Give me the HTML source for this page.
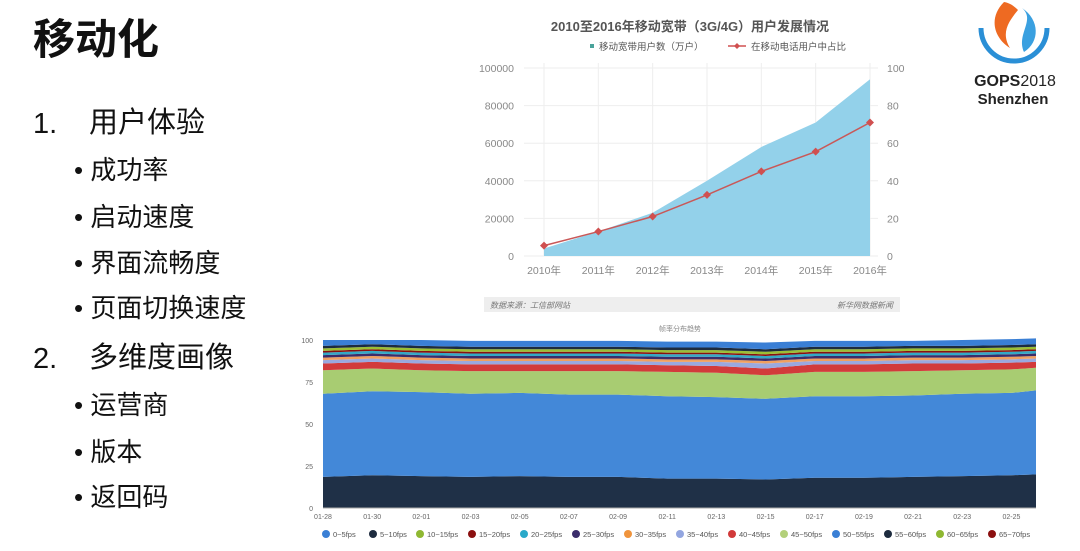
<!DOCTYPE html>
<html><head><meta charset="utf-8">
<style>
html,body{margin:0;padding:0;background:#fff;}
body{width:1080px;height:551px;position:relative;overflow:hidden;font-family:"Liberation Sans","Noto Sans CJK SC",sans-serif;}
.t{position:absolute;white-space:nowrap;color:#111;line-height:1;}
</style></head><body>
<div class="t" style="left:33px;top:19px;font-size:42px;font-weight:bold;">移动化</div>
<div class="t" style="left:33px;top:110px;font-size:29px;">1.</div>
<div class="t" style="left:89px;top:109px;font-size:29px;">用户体验</div>
<div class="t" style="left:74px;top:157px;font-size:26px;">• 成功率</div>
<div class="t" style="left:74px;top:204px;font-size:26px;">• 启动速度</div>
<div class="t" style="left:74px;top:250px;font-size:26px;">• 界面流畅度</div>
<div class="t" style="left:74px;top:295px;font-size:26px;">• 页面切换速度</div>
<div class="t" style="left:33px;top:345px;font-size:29px;">2.</div>
<div class="t" style="left:89px;top:344px;font-size:29px;">多维度画像</div>
<div class="t" style="left:74px;top:392px;font-size:26px;">• 运营商</div>
<div class="t" style="left:74px;top:439px;font-size:26px;">• 版本</div>
<div class="t" style="left:74px;top:484px;font-size:26px;">• 返回码</div>

<svg style="position:absolute;left:960px;top:0" width="110" height="110">
<path d="M21 28 A33 33 0 0 0 87 28" fill="none" stroke="#2a8fd6" stroke-width="5"/>
<path d="M44 2 C28 18 34 38 50 48 C40 32 50 20 58 10 C54 6 50 3 44 2 Z" fill="#ee6a22"/>
<path d="M62 8 C76 20 56 34 64 52 C80 42 80 20 62 8 Z" fill="#3aa0e0"/>
<text x="55" y="86" text-anchor="middle" font-size="16" font-family="Liberation Sans,sans-serif" fill="#222"><tspan font-weight="bold">GOPS</tspan>2018</text>
<text x="53" y="104" text-anchor="middle" font-size="15" font-weight="bold" font-family="Liberation Sans,sans-serif" fill="#222">Shenzhen</text>
</svg>

<svg id="top" style="position:absolute;left:0;top:0" width="1080" height="330"></svg>
<svg id="bot" style="position:absolute;left:0;top:0" width="1080" height="551"></svg>

<script>
const years=["2010年","2011年","2012年","2013年","2014年","2015年","2016年"];
const users=[4000,13000,23000,40000,58000,71000,94000];
const share=[5.5,13,21,32.5,45,55.5,71];
const leftTicks=[0,20000,40000,60000,80000,100000];
const rightTicks=[0,20,40,60,80,100];

const dates=["01-28","01-30","02-01","02-03","02-05","02-07","02-09","02-11","02-13","02-15","02-17","02-19","02-21","02-23","02-25","02-26"];
const dateLabels=["01-28","01-30","02-01","02-03","02-05","02-07","02-09","02-11","02-13","02-15","02-17","02-19","02-21","02-23","02-25"];
const yTicksB=[0,25,50,75,100];
const sDark=[18.5,19.5,19,18.5,19,18.5,18.5,17.5,17.5,17,18,18,18.5,19,19.5,20];
const sBlue=[49.5,50,50,49.5,49.5,49,49,49,48.5,48,48.5,48.5,48.5,49,49,50];
const sLgreen=[14,13.5,13,13.5,13,14,14,14.5,14.5,14,14.5,14.5,14.5,14,14,13.5];
const sRed=[4,4,4,4,4,4,4,4,4,4,4.5,4.5,4.5,4,4,3.5];
const sLpurple=[2,2,2,2,2,2,2,2,2.5,3,2,2,2,2,2,2];
const sOrange=[1.5,1.5,1.5,1.5,1.5,1.5,1.5,1.5,1.5,1.5,1.5,1.5,1.5,1.5,1.5,1.5];
const sDpurple=[1.5,1.5,1.5,1.5,1.5,1.5,1.5,1.5,1.5,1.5,1.5,1.5,1.5,1.5,1.5,1.5];
const sTeal=[1.5,1.5,1.5,1.5,1.5,1.5,1.5,1.5,1.5,1.5,1.5,1.5,1.5,1.5,1.5,1.5];
const sDred=[1,1,1,1,1,1,1,1,1,1,1,1,1,1,1,1];
const sGreen=[1.5,1.5,1.5,1.5,1.5,1.5,1.5,1.5,1.5,1.5,1.5,1.5,1.5,1.5,1.5,1.5];
const sBlack=[1.5,1.5,1.5,1.5,1.5,1.5,1.5,1.5,1.5,1.5,1.5,1.5,1.5,1.5,1.5,1.5];
const sTop=[3.5,2.5,3.5,3.5,3.5,3.5,3.5,3.5,3.5,4,3.5,3.5,3,3.5,3.5,3.5];
const legendNames=["0~5fps","5~10fps","10~15fps","15~20fps","20~25fps","25~30fps","30~35fps","35~40fps","40~45fps","45~50fps","50~55fps","55~60fps","60~65fps","65~70fps"];
const legendColors=["#3a7fd5","#1d2b3e","#8fb832","#8b1010","#29a9c9","#3b2d6b","#f0943c","#93a6e0","#d13a3a","#b3d07a","#3a7fd5","#1d2b3e","#8fb832","#8b1010"];

const NS="http://www.w3.org/2000/svg";
function mk(p,tag,attrs,txt){const e=document.createElementNS(NS,tag);for(const k in attrs)e.setAttribute(k,attrs[k]);if(txt!=null)e.textContent=txt;p.appendChild(e);return e;}

// ---- top chart
const T=document.getElementById('top');
const x0=544,x1=870,yb=256,yt=68;
const xs=i=>x0+(x1-x0)*i/(years.length-1);
const yl=v=>yb-(yb-yt)*v/100000;
const yr=v=>yb-(yb-yt)*v/100;
let e;
e=mk(T,'text',{x:690,y:31,'text-anchor':'middle','font-size':13,'font-weight':'bold',fill:'#555'},'2010至2016年移动宽带（3G/4G）用户发展情况');

e=mk(T,'rect',{x:590,y:44,width:4,height:4,fill:'#4aa39b'});

e=mk(T,'text',{x:599,y:50,'font-size':9.5,fill:'#555'},'移动宽带用户数（万户）');

mk(T,'line',{x1:728,y1:46,x2:746,y2:46,stroke:'#d05050','stroke-width':1.5});
e=mk(T,'path',{d:'M737 43 L740 46 L737 49 L734 46Z',fill:'#d05050'});

e=mk(T,'text',{x:751,y:50,'font-size':9.5,fill:'#555'},'在移动电话用户中占比');

leftTicks.forEach((v,i)=>{
  mk(T,'line',{x1:x0-20,x2:x1+8,y1:yl(v),y2:yl(v),stroke:'#eee','stroke-width':1});
  e=mk(T,'text',{x:514,y:yl(v)+4,'text-anchor':'end','font-size':10.5,fill:'#888'},v);
  
  e=mk(T,'text',{x:887,y:yr(rightTicks[i])+4,'font-size':10.5,fill:'#888'},rightTicks[i]);
  
});
years.forEach((y,i)=>{
  mk(T,'line',{x1:xs(i),x2:xs(i),y1:yt-5,y2:yb,stroke:'#eee','stroke-width':1});
  e=mk(T,'text',{x:xs(i),y:274,'text-anchor':'middle','font-size':10.5,fill:'#888'},y);
  
});
let d='M'+xs(0)+' '+yb;
users.forEach((v,i)=>d+=' L'+xs(i)+' '+yl(v));
d+=' L'+xs(users.length-1)+' '+yb+'Z';
e=mk(T,'path',{d:d,fill:'#93d1ea'});

e=mk(T,'polyline',{points:share.map((v,i)=>xs(i)+','+yr(v)).join(' '),fill:'none',stroke:'#c95858','stroke-width':1.5});

share.forEach((v,i)=>{
  const cx=xs(i),cy=yr(v);
  e=mk(T,'path',{d:`M${cx} ${cy-4} L${cx+4} ${cy} L${cx} ${cy+4} L${cx-4} ${cy}Z`,fill:'#d05050'});
  
});
e=mk(T,'rect',{x:484,y:297,width:416,height:15,fill:'#eeeeee'});

e=mk(T,'text',{x:490,y:308,'font-size':8,'font-style':'italic',fill:'#777'},'数据来源：工信部网站');

e=mk(T,'text',{x:893,y:308,'text-anchor':'end','font-size':8,'font-style':'italic',fill:'#777'},'新华网数据新闻');


// ---- bottom chart
const B=document.getElementById('bot');
const bx0=323,bx1=1036,by0=508,by1=340;
const N=29;
const dayIdx=[0,2,4,6,8,10,12,14,16,18,20,22,24,26,28,29];
const bx=i=>bx0+(bx1-bx0)*dayIdx[i]/N;
const by=v=>by0-(by0-by1)*v/100;
e=mk(B,'text',{x:680,y:331,'text-anchor':'middle','font-size':7,fill:'#888'},'帧率分布趋势');

const layers=[[sDark,'#1f3047'],[sBlue,'#4388d8'],[sLgreen,'#a8cc72'],[sRed,'#d23b3b'],[sLpurple,'#9aa9df'],[sOrange,'#f0a060'],[sDpurple,'#3b2d6b'],[sTeal,'#33a9c6'],[sDred,'#8b1010'],[sGreen,'#9bbf35'],[sBlack,'#1d2b3e'],[sTop,'#3a7fd5']];
let base=dates.map(()=>0);
layers.forEach((L,li)=>{
  const top=base.map((b,i)=>b+L[0][i]);
  let p='M'+dates.map((_,i)=>bx(i)+' '+by(top[i])).join(' L');
  for(let i=dates.length-1;i>=0;i--)p+=' L'+bx(i)+' '+by(base[i]);
  e=mk(B,'path',{d:p+'Z',fill:L[1]});
  
  base=top;
});
yTicksB.forEach(v=>{
  e=mk(B,'text',{x:313,y:by(v)+3,'text-anchor':'end','font-size':7,fill:'#666'},v);
  
});
mk(B,'line',{x1:bx0,x2:bx1,y1:by0,y2:by0,stroke:'#aaa','stroke-width':1});
dateLabels.forEach((l,i)=>{
  e=mk(B,'text',{x:bx(i),y:519,'text-anchor':'middle','font-size':7,fill:'#666'},l);
  
});
let lx=322;
legendNames.forEach((n,i)=>{
  e=mk(B,'circle',{cx:lx+4,cy:534,r:4,fill:legendColors[i]});
  
  e=mk(B,'text',{x:lx+11,y:537,'font-size':7.5,fill:'#555'},n);
  
  lx+= n.length>7?52:47;
});
</script>
</body></html>
